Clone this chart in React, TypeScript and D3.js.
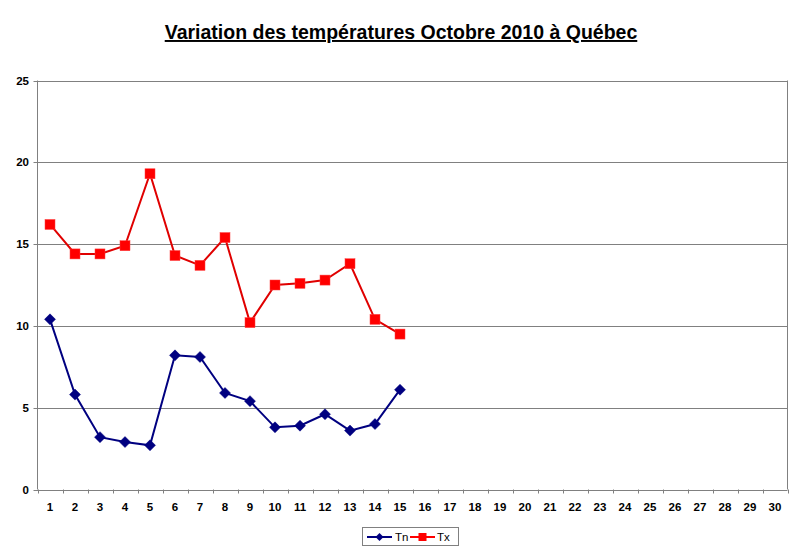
import React from "react";
import * as d3 from "d3";

const title = "Variation des températures Octobre 2010 à Québec";
const days = d3.range(1, 31).map(String);
const tnDays = d3.range(1, 16).map(String);
const tnValues = [10.4, 5.8, 3.2, 2.9, 2.7, 8.2, 8.1, 5.9, 5.4, 3.8, 3.9, 4.6, 3.6, 4.0, 6.1];
const txValues = [16.2, 14.4, 14.4, 14.9, 19.3, 14.3, 13.7, 15.4, 10.2, 12.5, 12.6, 12.8, 13.8, 10.4, 9.5];
const yTicks = [0, 5, 10, 15, 20, 25];
const seriesNames = ["Tn", "Tx"];

const W = 800;
const H = 554;
const left = 37.5;
const right = 787.5;
const top = 80.5;
const bottom = 489.5;
const font = "Arial, 'Liberation Sans', sans-serif";
const TN = "#000080";
const TX = "#FF0000";

export default function App() {
  const x = d3.scaleBand<string>().domain(days).range([left, right]);
  const y = d3.scaleLinear().domain([0, 25]).range([bottom, top]);
  const cx = (d: string) => (x(d) as number) + x.bandwidth() / 2;
  const line = d3
    .line<number>()
    .x((_, i) => cx(tnDays[i]))
    .y((v) => y(v));
  const diamond = (px: number, py: number, r: number) =>
    `M${px},${py - r}L${px + r},${py}L${px},${py + r}L${px - r},${py}Z`;
  const tickXs = d3.range(0, days.length + 1).map((i) => left + i * x.bandwidth());

  return (
    <div style={{ position: "absolute", left: 0, top: 0 }}>
      <svg width={W} height={H} style={{ display: "block", background: "#fff" }}>
        <rect x={0} y={0} width={W} height={H} fill="#fff" />
        <text
          x={401}
          y={39}
          textAnchor="middle"
          fontFamily={font}
          fontWeight="bold"
          fontSize={19.5}
          fill="#000"
          textDecoration="underline"
        >
          {title}
        </text>
        {/* gridlines */}
        {yTicks.map((t) => (
          <line
            key={"g" + t}
            x1={left - 4}
            x2={right}
            y1={Math.round(y(t)) + 0.5}
            y2={Math.round(y(t)) + 0.5}
            stroke="#808080"
            strokeWidth={1}
          />
        ))}
        {/* right border */}
        <line x1={right} x2={right} y1={top} y2={bottom} stroke="#808080" strokeWidth={1} />
        {/* y axis */}
        <line x1={left} x2={left} y1={top} y2={bottom} stroke="#808080" strokeWidth={1} />
        {yTicks.map((t) => (
          <text
            key={"yl" + t}
            x={29}
            y={y(t) + 4}
            textAnchor="end"
            fontFamily={font}
            fontWeight="bold"
            fontSize={11.5}
            fill="#000"
          >
            {t}
          </text>
        ))}
        {/* x axis ticks */}
        {tickXs.map((tx, i) => (
          <line
            key={"xt" + i}
            x1={Math.round(tx) + 0.5}
            x2={Math.round(tx) + 0.5}
            y1={bottom}
            y2={bottom + 4}
            stroke="#808080"
            strokeWidth={1}
          />
        ))}
        {days.map((d) => (
          <text
            key={"xl" + d}
            x={cx(d)}
            y={511}
            textAnchor="middle"
            fontFamily={font}
            fontWeight="bold"
            fontSize={11.5}
            fill="#000"
          >
            {d}
          </text>
        ))}
        {/* Tn series */}
        <path d={line(tnValues) || ""} fill="none" stroke={TN} strokeWidth={2} />
        {tnValues.map((v, i) => (
          <path key={"tn" + i} d={diamond(cx(tnDays[i]), y(v), 5.5)} fill={TN} stroke={TN} strokeWidth={0.5} />
        ))}
        {/* Tx series */}
        <path d={line(txValues) || ""} fill="none" stroke="#E00000" strokeWidth={2} />
        {txValues.map((v, i) => (
          <rect
            key={"tx" + i}
            x={cx(tnDays[i]) - 5}
            y={y(v) - 5}
            width={10}
            height={10}
            fill={TX}
            stroke="#FF4040"
            strokeWidth={0.5}
          />
        ))}
        {/* legend */}
        <rect x={362.5} y={527.5} width={96} height={18} fill="#fff" stroke="#808080" strokeWidth={1} />
        <line x1={367} x2={392} y1={537} y2={537} stroke={TN} strokeWidth={2} />
        <path d={diamond(379.5, 537, 4)} fill={TN} />
        <text x={395} y={541} fontFamily={font} fontSize={11.5} fill="#000">
          {seriesNames[0]}
        </text>
        <line x1={410} x2={435} y1={537} y2={537} stroke={TX} strokeWidth={2} />
        <rect x={418.5} y={533} width={8} height={8} fill={TX} />
        <text x={437} y={541} fontFamily={font} fontSize={11.5} fill="#000">
          {seriesNames[1]}
        </text>
      </svg>
    </div>
  );
}
